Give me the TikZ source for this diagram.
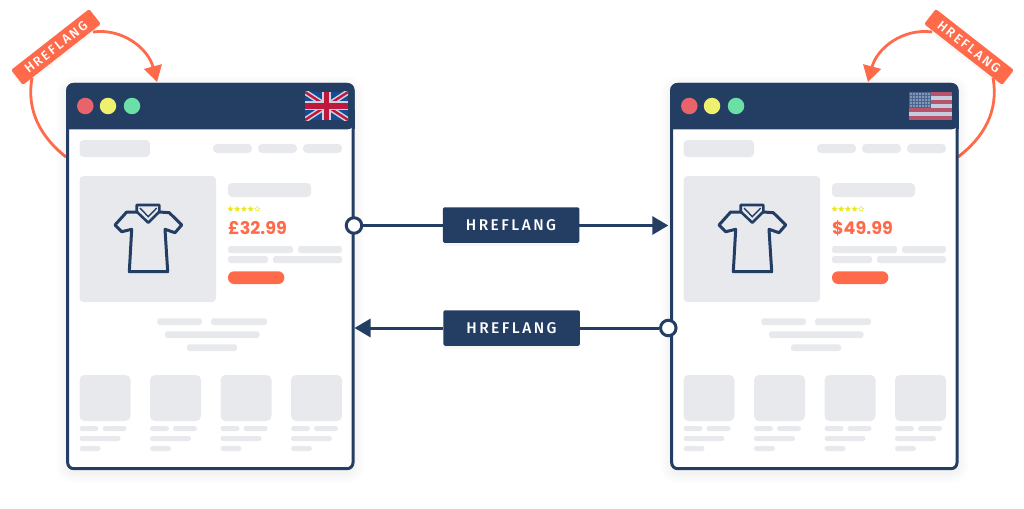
\documentclass[tikz,border=0pt]{standalone}
\usepackage{fontspec}
\usetikzlibrary{arrows.meta,positioning,shadows,shapes.geometric}
\newfontfamily\tagfont[LetterSpace=16,BoldFont={Fira Sans Medium}]{Fira Sans}
\newfontfamily\pricefont[BoldFont={Poppins Bold}]{Poppins}
\definecolor{page_navy}{RGB}{36,62,99}
\definecolor{page_orange}{RGB}{255,107,74}
\definecolor{page_grey}{RGB}{232,233,237}
\definecolor{dot_red}{RGB}{232,99,106}
\definecolor{dot_yellow}{RGB}{238,240,110}
\definecolor{dot_green}{RGB}{107,224,166}
\definecolor{star_yellow}{RGB}{232,232,40}
\definecolor{flag_blue}{RGB}{22,75,150}
\definecolor{flag_red}{RGB}{190,25,60}
\definecolor{flag_white}{RGB}{205,210,224}
\definecolor{usa_red}{RGB}{184,84,106}
\definecolor{usa_white}{RGB}{197,204,221}
\definecolor{usa_blue}{RGB}{74,101,144}
\tikzset{
  hreflink/.style={line width=3pt,page_navy},
  looplink/.style={line width=2.8pt,page_orange},
  tiptri/.style={-{Triangle[length=16pt,width=18pt]}},
  bigtag/.style={fill=page_navy,text=white,font=\tagfont\bfseries\fontsize{15.5}{17}\selectfont,
    minimum width=136.5pt,minimum height=35.5pt,inner sep=0pt,rounded corners=1.5pt,
    drop shadow={opacity=0.07,shadow xshift=0pt,shadow yshift=-3pt}},
  looptag/.style={fill=page_orange,text=white,font=\tagfont\bfseries\fontsize{13}{15}\selectfont,
    minimum width=99pt,minimum height=19pt,inner sep=0pt,rounded corners=1.5pt,
    drop shadow={opacity=0.07,shadow xshift=0pt,shadow yshift=-3pt}},
  endring/.style={circle,draw=page_navy,fill=white,line width=3pt,minimum size=15.5pt,inner sep=0pt},
  lampdot/.style={circle,minimum size=16.5pt,inner sep=0pt},
  ph/.style={fill=page_grey,rounded corners=2.5pt},
  phbox/.style={fill=page_grey,rounded corners=4pt},
  ratestar/.style={star,star points=5,star point ratio=2.2,minimum size=6.5pt,inner sep=0pt},
}
\newcommand{\browserpage}[2]{
  \foreach \s in {1,...,12}
    \fill[black,opacity=0.003,rounded corners=6pt+\s*1pt] (67.7-\s,84.5-\s+3) rectangle (353+\s,468.7+\s+3);
  \draw[page_navy,fill=white,line width=3pt,rounded corners=6pt] (67.7,84.5) rectangle (353,468.7);
  \fill[page_navy,rounded corners=7pt] (66.2,129.3) -- (66.2,83) -- (354.5,83) -- (354.5,129.3) [sharp corners] -- cycle;
  \fill[page_navy] (66.2,110) rectangle (69,129.3);
  \fill[page_navy] (351.7,110) rectangle (354.5,129.3);
  \node[lampdot,fill=dot_red] (#1_lamp_a) at (85.3,106) {};
  \node[lampdot,fill=dot_yellow] (#1_lamp_b) at (108,106) {};
  \node[lampdot,fill=dot_green] (#1_lamp_c) at (132,106) {};
  \fill[phbox] (79.5,140) rectangle (150,157);
  \foreach \x/\y in {213/252,258/297,303/342}
    \fill[ph,rounded corners=4pt] (\x,144) rectangle (\y,153);
  \fill[phbox] (79.5,176) rectangle (216,302);
  \draw[page_navy,line width=3pt,line join=round,line cap=round] (137.3,212) -- (126.7,212) -- (115,225) -- (121.7,231.7) -- (131.7,229.3)
    -- (129.3,271.7) -- (167.7,271.7) -- (165,229.3) -- (175,232.7) -- (181.7,225) -- (169.3,212.7) -- (159.3,212);
  \draw[page_navy,line width=2.6pt,line join=round] (136.7,205) -- (159.3,205) -- (159.3,211.7) -- (148.3,222.7) -- (136.7,211.7) -- cycle;
  \draw[page_navy,line width=1.4pt] (140,208) -- (148.3,216.7) -- (156.7,208);
  \fill[phbox] (228,183) rectangle (311,197);
  \foreach \i in {0,...,3}
    \node[ratestar,fill=star_yellow] (#1_star\i) at (230.5+\i*6.7,209) {};
  \node[ratestar,draw=star_yellow,line width=0.4pt,minimum size=5.5pt] (#1_star4) at (257.3,209) {};
  \node[anchor=west,inner sep=0pt,text=page_orange,font=\pricefont\bfseries\fontsize{17.5}{19}\selectfont] (#1_price) at (228,228) {#2};
  \fill[ph] (228,246) rectangle (293,253);
  \fill[ph] (298,246) rectangle (342,253);
  \fill[ph] (228,256) rectangle (268,263);
  \fill[ph] (273,256) rectangle (342,263);
  \fill[page_orange,rounded corners=6pt] (228,271.3) rectangle (284.3,284);
  \fill[ph] (157.3,318.3) rectangle (202,325);
  \fill[ph] (211,318.3) rectangle (267,325);
  \fill[ph] (165,331.3) rectangle (259.5,338);
  \fill[ph] (187,344.3) rectangle (237,351);
  \foreach \x in {79.5,150,220.5,291} {
    \fill[phbox,rounded corners=5pt] (\x,375) rectangle (\x+51,421);
    \fill[ph] (\x,426) rectangle (\x+19,431);
    \fill[ph] (\x+23,426) rectangle (\x+47,431);
    \fill[ph] (\x,436) rectangle (\x+41,441);
    \fill[ph] (\x,446) rectangle (\x+21,451);
  }
}
\begin{document}
\begin{tikzpicture}[x=1pt,y=-1pt]
  \fill[white] (0,0) rectangle (1024,508);
  \useasboundingbox (0,0) rectangle (1024,508);

  \coordinate (uk_tip) at (157,82);
  \coordinate (us_tip) at (868,82);
  \draw[looplink] (32,78) .. controls (26,112) and (42,138) .. (66,157);
  \draw[looplink,tiptri] (93,32) .. controls (122,28) and (148,48) .. (uk_tip);
  \draw[looplink] (993,78) .. controls (999,112) and (983,138) .. (958,157);
  \draw[looplink,tiptri] (932,32) .. controls (903,28) and (877,48) .. (us_tip);

  \browserpage{uk}{£32.99}
  \begin{scope}[shift={(604,0)}]
    \browserpage{us}{\$49.99}
  \end{scope}

  \begin{scope}
    \clip (305,92) rectangle (348,120);
    \fill[flag_blue] (305,92) rectangle (348,120);
    \draw[flag_white,line width=5.5pt] (305,92) -- (348,120) (305,120) -- (348,92);
    \draw[flag_red,line width=2.4pt] (305,92) -- (348,120) (305,120) -- (348,92);
    \draw[flag_white,line width=9pt] (326.5,92) -- (326.5,120) (305,106) -- (348,106);
    \draw[flag_red,line width=5.5pt] (326.5,92) -- (326.5,120) (305,106) -- (348,106);
  \end{scope}

  \fill[usa_red] (909,92) rectangle (952,120);
  \foreach \y in {96,104,112}
    \fill[usa_white] (909,\y) rectangle (952,\y+4);
  \fill[usa_blue] (909,92) rectangle (930.5,108);
  \foreach \x in {911,914,...,929}
    \foreach \y in {94,97,...,106}
      \fill[usa_white] (\x,\y) circle (0.8pt);

  \node[looptag,rotate=38] (tag_uk) at (56,47) {HREFLANG};
  \node[looptag,rotate=-38] (tag_us) at (969,47) {HREFLANG};

  \node[bigtag] (tag_top) at (511,225) {HREFLANG};
  \node[bigtag] (tag_bottom) at (511.5,328) {HREFLANG};
  \node[endring] (uk_out) at (354,225.5) {};
  \node[endring] (us_out) at (668.3,328) {};
  \coordinate (us_in) at (668.3,225.5);
  \coordinate (uk_in) at (354.5,328);
  \draw[hreflink] (uk_out) -- (uk_out -| tag_top.west);
  \draw[hreflink,tiptri] (uk_out -| tag_top.east) -- (us_in);
  \draw[hreflink] (us_out) -- (us_out -| tag_bottom.east);
  \draw[hreflink,tiptri] (us_out -| tag_bottom.west) -- (uk_in);
\end{tikzpicture}
\end{document}
